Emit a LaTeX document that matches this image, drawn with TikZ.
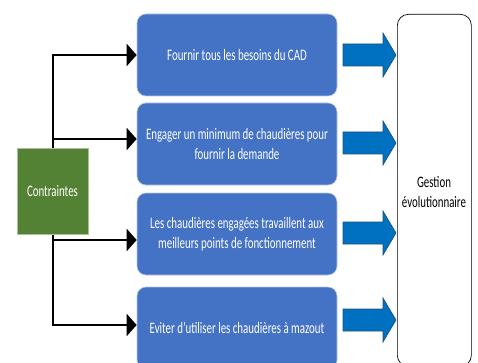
\documentclass[tikz,border=0pt]{standalone}
\usepackage{fontspec}
\setmainfont{Carlito}[FakeStretch=0.68]
\usetikzlibrary{arrows.meta,calc}
\definecolor{boxblue}{HTML}{4472C4}
\definecolor{arrblue}{HTML}{0070C0}
\definecolor{arrborder}{HTML}{1F4E79}
\definecolor{cgreen}{HTML}{548235}
\begin{document}
\begin{tikzpicture}[x=1pt,y=-1pt,
  txt/.style={font=\fontsize{16}{20}\selectfont, align=center},
  bluebox/.style={txt, draw=white!60!boxblue, line width=0.6pt, fill=boxblue, rounded corners=9pt,
    text=white, minimum width=200pt, minimum height=82pt, inner sep=0pt},
  greenbox/.style={txt, draw=white!50!cgreen, line width=0.6pt, fill=cgreen, text=white,
    minimum width=71pt, minimum height=86pt, inner sep=0pt},
  gestbox/.style={txt, draw=black, line width=0.7pt, fill=white, rounded corners=11pt,
    minimum width=74pt, minimum height=352pt, inner sep=0pt},
  conn/.style={line width=2pt, -{Triangle[length=10pt,width=22pt]}},
  blockarr/.style={draw=arrborder, line width=0.6pt, fill=arrblue},
  barrow/.pic={\path[blockarr] (0,-11) -- (40,-11) -- (40,-22) -- (53,0) -- (40,22) -- (40,11) -- (0,11) -- cycle;}
]
\useasboundingbox (0,0) rectangle (478,363);
\clip (0,0) rectangle (478,363);

\node[bluebox] (b1) at (237,55) {Fournir tous les besoins du CAD};
\node[bluebox] (b2) at (237,144) {Engager un minimum de chaudières pour\\fournir la demande};
\node[bluebox] (b3) at (237,234) {Les chaudières engagées travaillent aux\\meilleurs points de fonctionnement};
\node[bluebox] (b4) at (237,328) {Eviter d’utiliser les chaudières à mazout};

\node[gestbox, anchor=north west] (g) at (397,14) {};
\node[txt, anchor=north] (gt) at (434,173) {Gestion\\évolutionnaire};

\draw[conn] (52.5,191) |- (b1.west);
\draw[conn] (52.5,191) |- ($(b2.west)+(0,-5)$);
\draw[conn] (52.5,191) |- ($(b3.west)+(0,6)$);
\draw[conn] (52.5,191) |- ($(b4.west)+(0,-3)$);

\node[greenbox] (c) at (52.5,191) {Contraintes};

\pic at (343,55) {barrow};
\pic at (343,143) {barrow};
\pic at (343,233) {barrow};
\pic at (343,320) {barrow};
\end{tikzpicture}
\end{document}
